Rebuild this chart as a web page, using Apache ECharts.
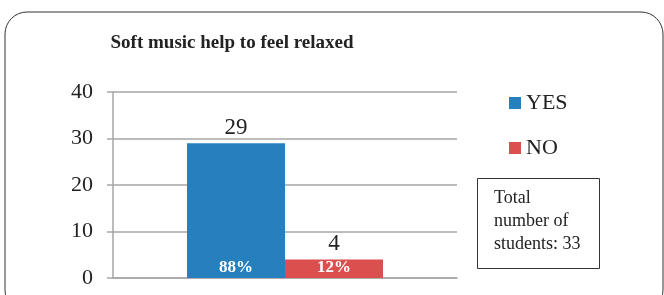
<!DOCTYPE html>
<html lang="en">
<head>
    <meta charset="UTF-8">
    <title>Soft music chart</title>
    <script src="https://cdn.jsdelivr.net/npm/echarts@6.0.0/dist/echarts.min.js"></script>
    <style>
        html, body { margin: 0; padding: 0; background: #fff; }
    </style>
</head>
<body>
    <div id="main" style="width: 664px;height:295px;"></div>
    <script>
        // data
        const categories = ["Soft music"];
        const seriesNames = ["YES", "NO"];
        const yesValues = [29];
        const noValues = [4];
        const yesPercent = ["88%"];
        const noPercent = ["12%"];
        const yTicks = [0, 10, 20, 30, 40];
        const totalStudents = 33;

        const serif = "Liberation Serif";
        const chart = echarts.init(document.getElementById('main'));

        // value shown above bar comes from a zero-height bar stacked on top
        function topLabelSeries(stackName, values) {
            return {
                type: 'bar',
                stack: stackName,
                barWidth: 98,
                data: values.map(() => 0),
                itemStyle: { color: 'transparent' },
                silent: true,
                label: {
                    show: true,
                    position: 'top',
                    distance: 4,
                    fontFamily: serif,
                    fontSize: 23,
                    color: '#222',
                    formatter: (p) => String(values[p.dataIndex])
                }
            };
        }

        function mainSeries(name, values, pct, color, stackName) {
            return {
                name: name,
                type: 'bar',
                stack: stackName,
                barWidth: 98,
                barGap: '0%',
                data: values,
                itemStyle: { color: color },
                label: {
                    show: true,
                    position: 'insideBottom',
                    distance: 2,
                    fontFamily: serif,
                    fontSize: 17,
                    fontWeight: 'bold',
                    color: '#fff',
                    formatter: (p) => pct[p.dataIndex]
                }
            };
        }

        let option = {
            animation: false,
            title: [
                {
                    text: "Soft music help to feel relaxed",
                    left: 227,
                    textAlign: 'center',
                    top: 29,
                    textStyle: { fontFamily: serif, fontSize: 19, fontWeight: 'bold', color: '#222' }
                },
                {
                    text: "Total\nnumber of\nstudents: " + totalStudents,
                    left: 477,
                    top: 178,
                    borderWidth: 1,
                    borderColor: '#333',
                    padding: [9, 19, 13, 17],
                    textStyle: { fontFamily: serif, fontSize: 18, fontWeight: 'normal', color: '#222', lineHeight: 23 }
                }
            ],
            legend: {
                data: seriesNames,
                orient: 'vertical',
                left: 504,
                top: 87,
                itemGap: 23,
                itemWidth: 12,
                itemHeight: 12,
                icon: 'rect',
                textStyle: { fontFamily: serif, fontSize: 22, color: '#222' }
            },
            grid: { left: 113, right: 207, top: 92, bottom: 17 },
            xAxis: {
                type: 'category',
                data: categories,
                axisLine: { lineStyle: { color: '#a6a6a6', width: 1.5 } },
                axisTick: { show: false },
                axisLabel: { show: false }
            },
            yAxis: {
                type: 'value',
                min: yTicks[0],
                max: yTicks[yTicks.length - 1],
                interval: 10,
                axisLine: { show: true, lineStyle: { color: '#a6a6a6', width: 1.5 } },
                axisTick: { show: true, length: 6, lineStyle: { color: '#a6a6a6', width: 1.5 } },
                axisLabel: { margin: 20, fontFamily: serif, fontSize: 22, color: '#222' },
                splitLine: { lineStyle: { color: '#a6a6a6', width: 1.5 } }
            },
            graphic: [
                {
                    type: 'rect',
                    shape: { x: 5, y: 12, width: 658, height: 300, r: 22 },
                    style: { fill: 'none', stroke: '#333', lineWidth: 1 },
                    silent: true,
                    z: -1
                }
            ],
            series: [
                mainSeries("YES", yesValues, yesPercent, '#2680be', 'yes'),
                topLabelSeries('yes', yesValues),
                mainSeries("NO", noValues, noPercent, '#dc4f4f', 'no'),
                topLabelSeries('no', noValues)
            ]
        };

        chart.setOption(option);
    </script>
</body>
</html>
